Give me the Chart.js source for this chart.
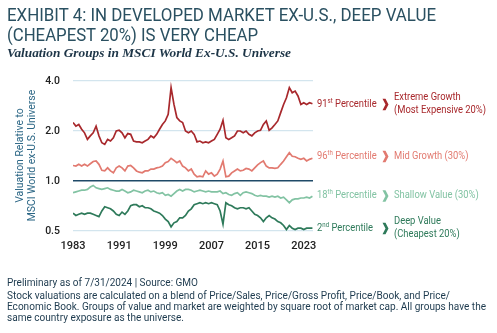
<!DOCTYPE html>
<html>
<head>
<meta charset="utf-8">
<script src="https://cdn.jsdelivr.net/npm/chart.js@4.4.1/dist/chart.umd.min.js"></script>
<style>
html, body { margin: 0; padding: 0; background: #fff; }
body { width: 497px; height: 333px; position: relative; overflow: hidden; }
#chart { position: absolute; left: 0; top: 0; }
.t { position: absolute; left: 7px; white-space: nowrap; transform-origin: 0 0; }
.title { font-family: Roboto; font-size: 18px; line-height: 20px; color: #2a5061; }
.sub { font-family: "Liberation Serif"; font-weight: bold; font-style: italic; font-size: 13px; line-height: 15px; color: #1d3547; }
.note { font-family: Roboto; font-size: 10px; line-height: 11px; color: #1d3a4e; }
</style>
</head>
<body>
<canvas id="chart" width="497" height="333"></canvas>
<div class="t title" style="top:5px" data-w="429">EXHIBIT 4: IN DEVELOPED MARKET EX-U.S., DEEP VALUE</div>
<div class="t title" style="top:25px" data-w="251">(CHEAPEST 20%) IS VERY CHEAP</div>
<div class="t sub" style="top:45px" data-w="284">Valuation Groups in MSCI World Ex-U.S. Universe</div>
<div class="t note" style="top:277px" data-w="191">Preliminary as of 7/31/2024 | Source: GMO</div>
<div class="t note" style="top:290px" data-w="443">Stock valuations are calculated on a blend of Price/Sales, Price/Gross Profit, Price/Book, and Price/</div>
<div class="t note" style="top:301px" data-w="479">Economic Book. Groups of value and market are weighted by square root of market cap. All groups have the</div>
<div class="t note" style="top:312px" data-w="177">same country exposure as the universe.</div>
<script>
// half-year observations
const dates = [
    1983, 1983.5, 1984, 1984.5, 1985, 1985.5, 1986, 1986.5, 1987, 1987.5,
    1988, 1988.5, 1989, 1989.5, 1990, 1990.5, 1991, 1991.5, 1992, 1992.5,
    1993, 1993.5, 1994, 1994.5, 1995, 1995.5, 1996, 1996.5, 1997, 1997.5,
    1998, 1998.5, 1999, 1999.5, 2000, 2000.5, 2001, 2001.5, 2002, 2002.5,
    2003, 2003.5, 2004, 2004.5, 2005, 2005.5, 2006, 2006.5, 2007, 2007.5,
    2008, 2008.5, 2009, 2009.5, 2010, 2010.5, 2011, 2011.5, 2012, 2012.5,
    2013, 2013.5, 2014, 2014.5, 2015, 2015.5, 2016, 2016.5, 2017, 2017.5,
    2018, 2018.5, 2019, 2019.5, 2020, 2020.5, 2021, 2021.5, 2022, 2022.5,
    2023, 2023.5, 2024, 2024.5
];

const extremeGrowth = [
    2.25, 2.14, 2.19, 2.05, 1.95, 1.78, 1.87, 1.95, 2.14, 1.87,
    1.70, 1.66, 1.78, 1.74, 1.82, 2.00, 2.02, 1.95, 1.82, 1.93,
    1.91, 1.74, 1.72, 1.72, 1.70, 1.74, 1.78, 1.87, 1.82, 1.91,
    2.05, 2.19, 2.30, 2.52, 3.65, 2.89, 2.41, 2.30, 2.25, 2.00,
    1.95, 2.00, 1.91, 1.72, 1.74, 1.70, 1.72, 1.70, 1.74, 1.78,
    1.91, 2.05, 2.32, 1.82, 1.78, 1.82, 1.87, 2.00, 2.00, 1.95,
    2.00, 1.91, 1.87, 1.95, 2.00, 2.02, 2.19, 2.30, 2.02, 2.09,
    2.19, 2.30, 2.58, 2.89, 3.17, 3.65, 3.40, 3.48, 3.25, 2.89,
    2.96, 2.89, 2.96, 2.92
];

const midGrowth = [
    1.24, 1.23, 1.26, 1.23, 1.26, 1.23, 1.27, 1.31, 1.32, 1.26,
    1.16, 1.15, 1.20, 1.15, 1.12, 1.20, 1.23, 1.20, 1.15, 1.23,
    1.24, 1.20, 1.15, 1.13, 1.12, 1.15, 1.15, 1.18, 1.18, 1.20,
    1.21, 1.23, 1.29, 1.31, 1.37, 1.33, 1.29, 1.32, 1.23, 1.20,
    1.15, 1.18, 1.10, 1.06, 1.07, 1.06, 1.15, 1.10, 1.12, 1.07,
    1.10, 1.18, 1.32, 1.06, 1.07, 1.12, 1.15, 1.18, 1.15, 1.16,
    1.19, 1.18, 1.15, 1.20, 1.25, 1.29, 1.32, 1.23, 1.20, 1.20,
    1.19, 1.20, 1.26, 1.32, 1.40, 1.48, 1.41, 1.40, 1.37, 1.35,
    1.37, 1.32, 1.35, 1.37
];

const shallowValue = [
    0.85, 0.86, 0.87, 0.88, 0.88, 0.89, 0.92, 0.94, 0.91, 0.90,
    0.89, 0.90, 0.91, 0.89, 0.88, 0.87, 0.87, 0.89, 0.87, 0.85,
    0.86, 0.88, 0.87, 0.86, 0.85, 0.87, 0.88, 0.86, 0.87, 0.85,
    0.84, 0.85, 0.82, 0.83, 0.81, 0.84, 0.87, 0.89, 0.87, 0.89,
    0.89, 0.88, 0.86, 0.87, 0.88, 0.87, 0.86, 0.87, 0.86, 0.86,
    0.86, 0.87, 0.84, 0.85, 0.83, 0.82, 0.84, 0.85, 0.82, 0.85,
    0.86, 0.85, 0.84, 0.82, 0.81, 0.82, 0.81, 0.81, 0.80, 0.81,
    0.80, 0.81, 0.79, 0.80, 0.77, 0.74, 0.77, 0.78, 0.78, 0.79,
    0.79, 0.80, 0.79, 0.81
];

const deepValue = [
    0.64, 0.62, 0.63, 0.64, 0.63, 0.64, 0.64, 0.63, 0.62, 0.61,
    0.66, 0.70, 0.69, 0.68, 0.66, 0.63, 0.62, 0.65, 0.63, 0.66,
    0.71, 0.72, 0.72, 0.70, 0.71, 0.69, 0.69, 0.68, 0.66, 0.65,
    0.64, 0.62, 0.59, 0.57, 0.53, 0.56, 0.57, 0.60, 0.60, 0.62,
    0.66, 0.68, 0.72, 0.73, 0.74, 0.73, 0.74, 0.73, 0.74, 0.73,
    0.72, 0.66, 0.55, 0.74, 0.72, 0.71, 0.69, 0.68, 0.69, 0.69,
    0.68, 0.69, 0.66, 0.63, 0.62, 0.60, 0.57, 0.60, 0.62, 0.60,
    0.59, 0.57, 0.56, 0.54, 0.51, 0.54, 0.52, 0.51, 0.52, 0.52,
    0.51, 0.52, 0.52, 0.52
];

const xTicks = [1983, 1991, 1999, 2007, 2015, 2023];
const yTicks = [0.5, 1, 2, 4];

const colors = {
    eg: '#a8282c',
    mg: '#e27a70',
    sv: '#82c3a3',
    dv: '#2e7a5a'
};

// squeeze the text widths in the html so they look like a condensed face
document.querySelectorAll('[data-w]').forEach(el => {
    const w = el.getBoundingClientRect().width;
    el.style.transform = 'scaleX(' + (el.dataset.w / w) + ')';
});

function toPoints(values) {
    return values.map((v, i) => ({ x: dates[i], y: v }));
}

let SX = 0.86;

// draws a row of text pieces, squeezed horizontally
function squeezed(ctx, parts, x, y, color) {
    ctx.save();
    ctx.fillStyle = color;
    ctx.textBaseline = 'middle';
    ctx.textAlign = 'left';
    let cx = x;
    parts.forEach(p => {
        ctx.font = p.size + 'px Roboto';
        ctx.save();
        ctx.translate(cx, y + (p.dy || 0));
        ctx.scale(SX, 1);
        ctx.fillText(p.text, 0, 0);
        ctx.restore();
        cx += ctx.measureText(p.text).width * SX;
    });
    ctx.restore();
}

const sideLabels = [
    { pct: '91', sup: 'st', y: 104, color: colors.eg, name: ['Extreme Growth', '(Most Expensive 20%)'] },
    { pct: '96', sup: 'th', y: 156, color: colors.mg, name: ['Mid Growth (30%)'] },
    { pct: '18', sup: 'th', y: 195.5, color: colors.sv, name: ['Shallow Value (30%)'] },
    { pct: '2', sup: 'nd', y: 228, color: colors.dv, name: ['Deep Value', '(Cheapest 20%)'] }
];

const annotations = {
    id: 'annotations',
    afterDraw(chart) {
        const ctx = chart.ctx;
        ctx.font = '10px Roboto';
        SX = 92 / ctx.measureText('(Most Expensive 20%)').width;

        sideLabels.forEach(l => {
            squeezed(ctx, [
                { text: l.pct, size: 10 },
                { text: l.sup, size: 6.5, dy: -3 },
                { text: ' Percentile', size: 10 }
            ], 317, l.y, l.color);

            // chevron
            const x0 = 382.5, w = 6, h = 11.5, cy = l.y + 0.5;
            ctx.save();
            ctx.fillStyle = l.color;
            ctx.beginPath();
            ctx.moveTo(x0, cy - h / 2);
            ctx.lineTo(x0 + w * 0.5, cy - h / 2);
            ctx.lineTo(x0 + w, cy);
            ctx.lineTo(x0 + w * 0.5, cy + h / 2);
            ctx.lineTo(x0, cy + h / 2);
            ctx.lineTo(x0 + w * 0.5, cy);
            ctx.closePath();
            ctx.fill();
            ctx.restore();

            if (l.name.length === 1) {
                squeezed(ctx, [{ text: l.name[0], size: 10 }], 394, l.y, l.color);
            } else {
                squeezed(ctx, [{ text: l.name[0], size: 10 }], 394, l.y - 7, l.color);
                squeezed(ctx, [{ text: l.name[1], size: 10 }], 394, l.y + 6.5, l.color);
            }
        });

        // y axis title, two lines
        const lines = [['Valuation Relative to', 20.5], ['MSCI World ex-U.S. Universe', 32]];
        ctx.save();
        ctx.fillStyle = '#2b6685';
        ctx.font = '10.5px Roboto';
        ctx.textAlign = 'center';
        ctx.textBaseline = 'middle';
        const s = 131.5 / ctx.measureText(lines[1][0]).width;
        lines.forEach(([txt, x]) => {
            ctx.save();
            ctx.translate(x, 155.5);
            ctx.rotate(-Math.PI / 2);
            ctx.scale(s, 1);
            ctx.fillText(txt, 0, 0);
            ctx.restore();
        });
        ctx.restore();
    }
};

const lineSet = (label, values, color) => ({
    label: label,
    data: toPoints(values),
    borderColor: color,
    borderWidth: 1.7,
    pointRadius: 0,
    tension: 0,
    fill: false
});

new Chart(document.getElementById('chart'), {
    type: 'line',
    data: {
        datasets: [
            lineSet('Extreme Growth', extremeGrowth, colors.eg),
            lineSet('Mid Growth', midGrowth, colors.mg),
            lineSet('Shallow Value', shallowValue, colors.sv),
            lineSet('Deep Value', deepValue, colors.dv)
        ]
    },
    options: {
        responsive: false,
        animation: false,
        layout: {
            padding: { left: 0, top: 81, right: 184, bottom: 72 }
        },
        plugins: {
            legend: { display: false },
            tooltip: { enabled: false }
        },
        scales: {
            x: {
                type: 'linear',
                min: 1983,
                max: 2024.6,
                afterBuildTicks: scale => {
                    scale.ticks = xTicks.map(v => ({ value: v }));
                },
                afterFit: scale => { scale.height = 30; },
                grid: { display: false, drawTicks: false },
                border: { display: false },
                ticks: {
                    padding: 9,
                    color: '#222',
                    font: { family: 'Roboto', size: 11, weight: '500' },
                    callback: v => String(v),
                    maxRotation: 0
                }
            },
            y: {
                type: 'logarithmic',
                min: 0.5,
                max: 4,
                afterBuildTicks: scale => {
                    scale.ticks = yTicks.map(v => ({ value: v }));
                },
                afterFit: scale => { scale.width = 73; },
                grid: {
                    drawTicks: false,
                    color: c => c.tick && c.tick.value === 1 ? '#1f4a68' : '#d3e5ee',
                    lineWidth: c => c.tick && c.tick.value === 1 ? 1.5 : 1.2
                },
                border: { display: false },
                ticks: {
                    padding: 13,
                    color: '#222',
                    font: { family: 'Roboto', size: 10.5, weight: '500' },
                    callback: v => Number(v).toFixed(1)
                }
            }
        }
    },
    plugins: [annotations]
});
</script>
</body>
</html>
